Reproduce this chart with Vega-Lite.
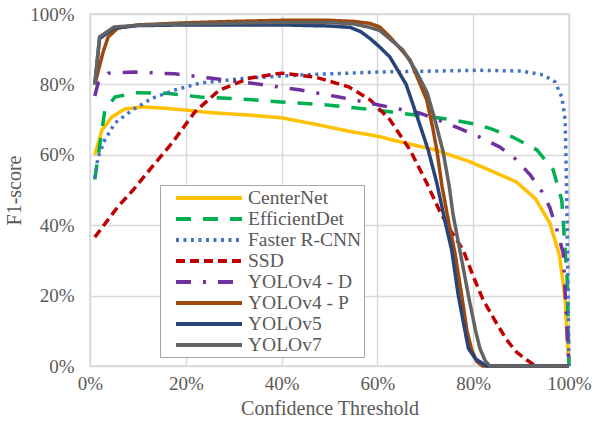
{
  "$schema": "https://vega.github.io/schema/vega-lite/v6.json",
  "width": 479,
  "height": 352,
  "autosize": {"type": "none"},
  "padding": {"left": 90, "top": 14, "right": 36, "bottom": 60},
  "background": "white",
  "config": {
    "view": {"stroke": "#d9d9d9", "strokeWidth": 1.5},
    "font": "Liberation Serif",
    "axis": {
      "labelFont": "Liberation Serif",
      "titleFont": "Liberation Serif",
      "labelFontSize": 19,
      "titleFontSize": 20,
      "labelColor": "#595959",
      "titleColor": "#595959",
      "titleFontWeight": "normal",
      "gridColor": "#d9d9d9",
      "gridWidth": 1.5,
      "domain": false,
      "ticks": false,
      "tickSize": 0,
      "labelFlush": false
    },
    "legend": {
      "labelFont": "Liberation Serif",
      "labelFontSize": 19.5,
      "labelColor": "#595959"
    }
  },
  "data": {
    "values": [
      {"s": "CenterNet", "x": 1, "y": 60},
      {"s": "CenterNet", "x": 2.5, "y": 67},
      {"s": "CenterNet", "x": 4.6, "y": 70.8},
      {"s": "CenterNet", "x": 7.3, "y": 73},
      {"s": "CenterNet", "x": 10.9, "y": 73.6},
      {"s": "CenterNet", "x": 15, "y": 73.3},
      {"s": "CenterNet", "x": 20, "y": 72.7},
      {"s": "CenterNet", "x": 25, "y": 72},
      {"s": "CenterNet", "x": 33, "y": 71.3},
      {"s": "CenterNet", "x": 40, "y": 70.5},
      {"s": "CenterNet", "x": 47, "y": 68.7},
      {"s": "CenterNet", "x": 54, "y": 66.7},
      {"s": "CenterNet", "x": 60, "y": 65.3},
      {"s": "CenterNet", "x": 65, "y": 63.6},
      {"s": "CenterNet", "x": 72, "y": 61.4},
      {"s": "CenterNet", "x": 79, "y": 58.2},
      {"s": "CenterNet", "x": 84, "y": 55.3},
      {"s": "CenterNet", "x": 89, "y": 52.3},
      {"s": "CenterNet", "x": 93, "y": 47.5},
      {"s": "CenterNet", "x": 96, "y": 40.6},
      {"s": "CenterNet", "x": 98, "y": 31.5},
      {"s": "CenterNet", "x": 99.2, "y": 19},
      {"s": "CenterNet", "x": 99.6, "y": 8},
      {"s": "CenterNet", "x": 100, "y": 0},
      {"s": "EfficientDet", "x": 1, "y": 53},
      {"s": "EfficientDet", "x": 2.1, "y": 63.3},
      {"s": "EfficientDet", "x": 3.1, "y": 72.7},
      {"s": "EfficientDet", "x": 5.2, "y": 76.4},
      {"s": "EfficientDet", "x": 9.4, "y": 77.6},
      {"s": "EfficientDet", "x": 16, "y": 77.5},
      {"s": "EfficientDet", "x": 23, "y": 76.4},
      {"s": "EfficientDet", "x": 30, "y": 76},
      {"s": "EfficientDet", "x": 40, "y": 75},
      {"s": "EfficientDet", "x": 50, "y": 74.1},
      {"s": "EfficientDet", "x": 60, "y": 72.7},
      {"s": "EfficientDet", "x": 65, "y": 71.8},
      {"s": "EfficientDet", "x": 70, "y": 71},
      {"s": "EfficientDet", "x": 75.8, "y": 69.9},
      {"s": "EfficientDet", "x": 80, "y": 68.8},
      {"s": "EfficientDet", "x": 83.5, "y": 67.5},
      {"s": "EfficientDet", "x": 88.3, "y": 65},
      {"s": "EfficientDet", "x": 93.3, "y": 61.4},
      {"s": "EfficientDet", "x": 96.7, "y": 55.7},
      {"s": "EfficientDet", "x": 98.5, "y": 47},
      {"s": "EfficientDet", "x": 99.2, "y": 33},
      {"s": "EfficientDet", "x": 99.6, "y": 25},
      {"s": "EfficientDet", "x": 100, "y": 0},
      {"s": "Faster R-CNN", "x": 1, "y": 53.4},
      {"s": "Faster R-CNN", "x": 1.7, "y": 59.4},
      {"s": "Faster R-CNN", "x": 3.1, "y": 64.2},
      {"s": "Faster R-CNN", "x": 5.2, "y": 69},
      {"s": "Faster R-CNN", "x": 8.8, "y": 72.7},
      {"s": "Faster R-CNN", "x": 12.9, "y": 76},
      {"s": "Faster R-CNN", "x": 17.7, "y": 78.4},
      {"s": "Faster R-CNN", "x": 23, "y": 80.4},
      {"s": "Faster R-CNN", "x": 33, "y": 81.8},
      {"s": "Faster R-CNN", "x": 44, "y": 82.7},
      {"s": "Faster R-CNN", "x": 60, "y": 83.5},
      {"s": "Faster R-CNN", "x": 72, "y": 83.8},
      {"s": "Faster R-CNN", "x": 81, "y": 84},
      {"s": "Faster R-CNN", "x": 90, "y": 83.8},
      {"s": "Faster R-CNN", "x": 94.6, "y": 82.7},
      {"s": "Faster R-CNN", "x": 97.1, "y": 80.7},
      {"s": "Faster R-CNN", "x": 98.5, "y": 76.4},
      {"s": "Faster R-CNN", "x": 99.2, "y": 70},
      {"s": "Faster R-CNN", "x": 99.5, "y": 50},
      {"s": "Faster R-CNN", "x": 99.7, "y": 30},
      {"s": "Faster R-CNN", "x": 100, "y": 0},
      {"s": "SSD", "x": 1, "y": 36.6},
      {"s": "SSD", "x": 5.8, "y": 45.2},
      {"s": "SSD", "x": 9, "y": 50},
      {"s": "SSD", "x": 12.9, "y": 56.5},
      {"s": "SSD", "x": 17.1, "y": 63.3},
      {"s": "SSD", "x": 21.9, "y": 72.2},
      {"s": "SSD", "x": 27, "y": 78.4},
      {"s": "SSD", "x": 33.4, "y": 81.8},
      {"s": "SSD", "x": 40, "y": 83.2},
      {"s": "SSD", "x": 47, "y": 82.1},
      {"s": "SSD", "x": 54, "y": 79.3},
      {"s": "SSD", "x": 58.5, "y": 75.6},
      {"s": "SSD", "x": 62.6, "y": 70},
      {"s": "SSD", "x": 66.8, "y": 61.4},
      {"s": "SSD", "x": 70.3, "y": 52},
      {"s": "SSD", "x": 73, "y": 44},
      {"s": "SSD", "x": 75.5, "y": 38},
      {"s": "SSD", "x": 77.9, "y": 33},
      {"s": "SSD", "x": 80, "y": 25.5},
      {"s": "SSD", "x": 82, "y": 19},
      {"s": "SSD", "x": 84.5, "y": 13},
      {"s": "SSD", "x": 87, "y": 7.4},
      {"s": "SSD", "x": 89, "y": 4},
      {"s": "SSD", "x": 91.2, "y": 1.7},
      {"s": "SSD", "x": 93, "y": 0},
      {"s": "SSD", "x": 100, "y": 0},
      {"s": "YOLOv4 - D", "x": 1, "y": 76.7},
      {"s": "YOLOv4 - D", "x": 1.7, "y": 80.4},
      {"s": "YOLOv4 - D", "x": 3.8, "y": 83.2},
      {"s": "YOLOv4 - D", "x": 9.4, "y": 83.5},
      {"s": "YOLOv4 - D", "x": 17.7, "y": 83},
      {"s": "YOLOv4 - D", "x": 25, "y": 81.8},
      {"s": "YOLOv4 - D", "x": 33.4, "y": 80.4},
      {"s": "YOLOv4 - D", "x": 44, "y": 78.4},
      {"s": "YOLOv4 - D", "x": 52, "y": 76.4},
      {"s": "YOLOv4 - D", "x": 58.5, "y": 74.7},
      {"s": "YOLOv4 - D", "x": 60.5, "y": 74.1},
      {"s": "YOLOv4 - D", "x": 69, "y": 71.8},
      {"s": "YOLOv4 - D", "x": 77, "y": 67.6},
      {"s": "YOLOv4 - D", "x": 81.4, "y": 65},
      {"s": "YOLOv4 - D", "x": 85.6, "y": 62.2},
      {"s": "YOLOv4 - D", "x": 88.7, "y": 59},
      {"s": "YOLOv4 - D", "x": 91.9, "y": 54.3},
      {"s": "YOLOv4 - D", "x": 94.4, "y": 49.4},
      {"s": "YOLOv4 - D", "x": 96, "y": 45},
      {"s": "YOLOv4 - D", "x": 97.5, "y": 38.6},
      {"s": "YOLOv4 - D", "x": 98.8, "y": 32},
      {"s": "YOLOv4 - D", "x": 99.2, "y": 20.7},
      {"s": "YOLOv4 - D", "x": 99.6, "y": 9.4},
      {"s": "YOLOv4 - D", "x": 100, "y": 0},
      {"s": "YOLOv4 - P", "x": 1, "y": 80},
      {"s": "YOLOv4 - P", "x": 2.7, "y": 89},
      {"s": "YOLOv4 - P", "x": 3.8, "y": 93.5},
      {"s": "YOLOv4 - P", "x": 5.8, "y": 96},
      {"s": "YOLOv4 - P", "x": 10, "y": 96.9},
      {"s": "YOLOv4 - P", "x": 20, "y": 97.5},
      {"s": "YOLOv4 - P", "x": 30, "y": 97.9},
      {"s": "YOLOv4 - P", "x": 40, "y": 98.2},
      {"s": "YOLOv4 - P", "x": 50, "y": 98.2},
      {"s": "YOLOv4 - P", "x": 55, "y": 97.9},
      {"s": "YOLOv4 - P", "x": 58.5, "y": 97.3},
      {"s": "YOLOv4 - P", "x": 60.5, "y": 96.3},
      {"s": "YOLOv4 - P", "x": 62.6, "y": 93.5},
      {"s": "YOLOv4 - P", "x": 66.8, "y": 87},
      {"s": "YOLOv4 - P", "x": 70.3, "y": 75.6},
      {"s": "YOLOv4 - P", "x": 71.5, "y": 68},
      {"s": "YOLOv4 - P", "x": 72.4, "y": 61.4},
      {"s": "YOLOv4 - P", "x": 73.5, "y": 51},
      {"s": "YOLOv4 - P", "x": 75, "y": 40},
      {"s": "YOLOv4 - P", "x": 76.2, "y": 32},
      {"s": "YOLOv4 - P", "x": 77.6, "y": 20},
      {"s": "YOLOv4 - P", "x": 78.7, "y": 10},
      {"s": "YOLOv4 - P", "x": 79.7, "y": 4.5},
      {"s": "YOLOv4 - P", "x": 80.8, "y": 1.2},
      {"s": "YOLOv4 - P", "x": 82, "y": 0},
      {"s": "YOLOv4 - P", "x": 100, "y": 0},
      {"s": "YOLOv5", "x": 1, "y": 80},
      {"s": "YOLOv5", "x": 2, "y": 93},
      {"s": "YOLOv5", "x": 5, "y": 96},
      {"s": "YOLOv5", "x": 10, "y": 96.7},
      {"s": "YOLOv5", "x": 20, "y": 96.9},
      {"s": "YOLOv5", "x": 40, "y": 96.9},
      {"s": "YOLOv5", "x": 50, "y": 96.6},
      {"s": "YOLOv5", "x": 54.3, "y": 96.2},
      {"s": "YOLOv5", "x": 56.5, "y": 95},
      {"s": "YOLOv5", "x": 58.5, "y": 93},
      {"s": "YOLOv5", "x": 60.5, "y": 90.6},
      {"s": "YOLOv5", "x": 62.6, "y": 87.8},
      {"s": "YOLOv5", "x": 66, "y": 80},
      {"s": "YOLOv5", "x": 68.5, "y": 70},
      {"s": "YOLOv5", "x": 70.6, "y": 61.4},
      {"s": "YOLOv5", "x": 72.4, "y": 52},
      {"s": "YOLOv5", "x": 74.3, "y": 40},
      {"s": "YOLOv5", "x": 75.5, "y": 33},
      {"s": "YOLOv5", "x": 76.9, "y": 20},
      {"s": "YOLOv5", "x": 78, "y": 12},
      {"s": "YOLOv5", "x": 79, "y": 5},
      {"s": "YOLOv5", "x": 80.5, "y": 2},
      {"s": "YOLOv5", "x": 82.8, "y": 0},
      {"s": "YOLOv5", "x": 100, "y": 0},
      {"s": "YOLOv7", "x": 1, "y": 80},
      {"s": "YOLOv7", "x": 2, "y": 93.5},
      {"s": "YOLOv7", "x": 5, "y": 96.3},
      {"s": "YOLOv7", "x": 10, "y": 96.8},
      {"s": "YOLOv7", "x": 20, "y": 97.2},
      {"s": "YOLOv7", "x": 30, "y": 97.4},
      {"s": "YOLOv7", "x": 40, "y": 97.6},
      {"s": "YOLOv7", "x": 50, "y": 97.6},
      {"s": "YOLOv7", "x": 55, "y": 97.2},
      {"s": "YOLOv7", "x": 58.4, "y": 96.2},
      {"s": "YOLOv7", "x": 60.5, "y": 95.3},
      {"s": "YOLOv7", "x": 65.3, "y": 89.8},
      {"s": "YOLOv7", "x": 68, "y": 84},
      {"s": "YOLOv7", "x": 70.4, "y": 77.6},
      {"s": "YOLOv7", "x": 72, "y": 70},
      {"s": "YOLOv7", "x": 73.7, "y": 61},
      {"s": "YOLOv7", "x": 75, "y": 51},
      {"s": "YOLOv7", "x": 75.8, "y": 43},
      {"s": "YOLOv7", "x": 77.2, "y": 33},
      {"s": "YOLOv7", "x": 79, "y": 20},
      {"s": "YOLOv7", "x": 80.5, "y": 10},
      {"s": "YOLOv7", "x": 81.4, "y": 5},
      {"s": "YOLOv7", "x": 82.5, "y": 1.5},
      {"s": "YOLOv7", "x": 83.5, "y": 0},
      {"s": "YOLOv7", "x": 100, "y": 0}
    ]
  },
  "mark": {"type": "line", "strokeWidth": 3.5, "strokeJoin": "round"},
  "encoding": {
    "x": {
      "field": "x",
      "type": "quantitative",
      "scale": {"domain": [0, 100], "nice": false, "zero": false},
      "axis": {
        "values": [0, 20, 40, 60, 80, 100],
        "labelExpr": "datum.value + '%'",
        "labelPadding": 8,
        "title": "Confidence Threshold",
        "titlePadding": 5
      }
    },
    "y": {
      "field": "y",
      "type": "quantitative",
      "scale": {"domain": [0, 100], "nice": false},
      "axis": {
        "values": [0, 20, 40, 60, 80, 100],
        "labelExpr": "datum.value + '%'",
        "labelPadding": 16,
        "title": "F1-score",
        "titleX": -66,
        "titleY": 176
      }
    },
    "color": {
      "field": "s",
      "type": "nominal",
      "scale": {
        "domain": ["CenterNet", "EfficientDet", "Faster R-CNN", "SSD", "YOLOv4 - D", "YOLOv4 - P", "YOLOv5", "YOLOv7"],
        "range": ["#FFC000", "#00B050", "#4472C4", "#C00000", "#7030A0", "#9E480E", "#264478", "#636363"]
      },
      "legend": {
        "title": null,
        "orient": "none",
        "legendX": 70,
        "legendY": 171,
        "symbolType": "M-3.67,0H3.67",
        "symbolSize": 324,
        "symbolStrokeWidth": 4,
        "symbolOffset": 36,
        "labelOffset": 28,
        "rowPadding": 0,
        "padding": 2,
        "fillColor": "white",
        "strokeColor": "#a6a6a6",
        "labelFont": "Liberation Serif",
        "labelFontSize": 19.5,
        "labelLimit": 300
      }
    },
    "strokeDash": {
      "field": "s",
      "type": "nominal",
      "scale": {
        "domain": ["CenterNet", "EfficientDet", "Faster R-CNN", "SSD", "YOLOv4 - D", "YOLOv4 - P", "YOLOv5", "YOLOv7"],
        "range": [[1, 0], [15, 12], [3, 4.5], [9, 5], [15, 12, 3, 12], [1, 0], [1, 0], [1, 0]]
      },
      "legend": null
    }
  }
}
